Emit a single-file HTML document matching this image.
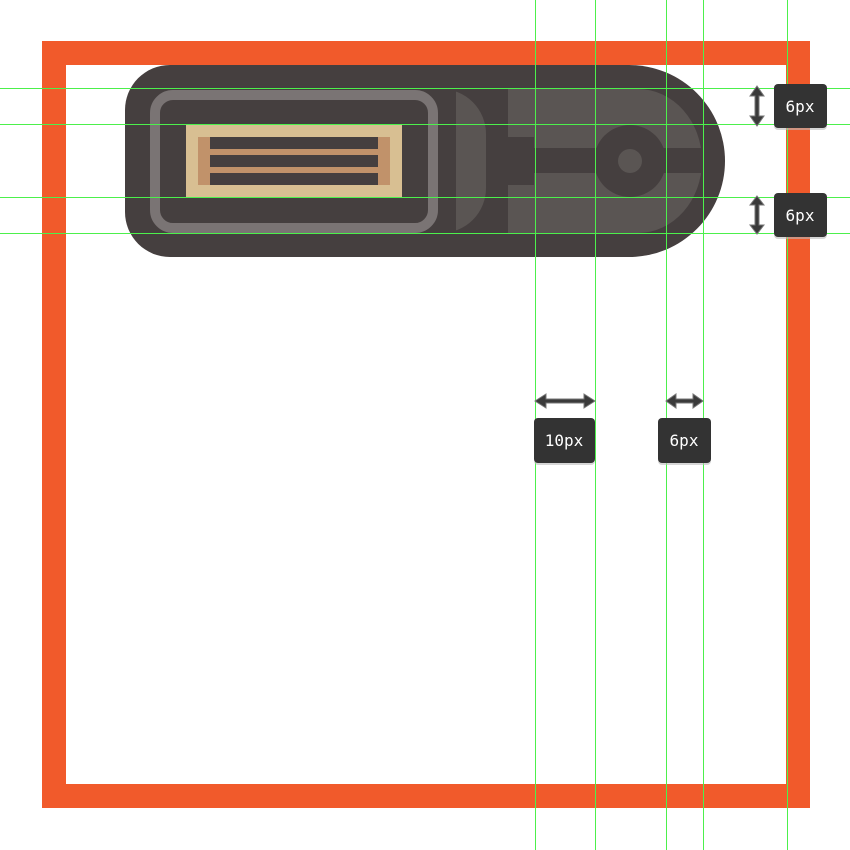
<!DOCTYPE html>
<html><head><style>body{margin:0;background:#fff}svg{display:block}</style></head>
<body>
<svg width="850" height="850" viewBox="0 0 850 850" xmlns="http://www.w3.org/2000/svg">
<defs><clipPath id="band"><rect x="456" y="80" width="40" height="160"/></clipPath></defs>
<rect x="0" y="0" width="850" height="850" fill="#fff"/>
<rect x="54" y="53" width="744" height="743" fill="none" stroke="#f15a2b" stroke-width="24"/>
<!-- body -->
<path d="M170 65 H629 A96 96 0 0 1 629 257 H170 A45 45 0 0 1 125 212 V110 A45 45 0 0 1 170 65 Z" fill="#453f3f"/>
<rect x="300" y="104" width="171" height="114" rx="30" ry="30" fill="none" stroke="#5a5553" stroke-width="30" clip-path="url(#band)"/>
<path d="M508 89 H638 A64 72 0 0 1 638 233 H508 Z" fill="#5a5553"/>
<rect x="508" y="137" width="26" height="48" fill="#453f3f"/>
<rect x="534" y="148" width="170" height="25" fill="#453f3f"/>
<circle cx="630" cy="161" r="36" fill="#453f3f"/>
<circle cx="630" cy="161" r="12" fill="#5a5553"/>
<!-- frame -->
<rect x="155" y="95" width="278" height="133" rx="18" ry="18" fill="#453f3f" stroke="#7a7474" stroke-width="10"/>
<rect x="186" y="125" width="216" height="72" fill="#d8bf92"/>
<rect x="198" y="137" width="192" height="48" fill="#c1926a"/>
<rect x="210" y="137" width="168" height="12" fill="#453f3f"/>
<rect x="210" y="155" width="168" height="12" fill="#453f3f"/>
<rect x="210" y="173" width="168" height="12" fill="#453f3f"/>
<!-- guides -->
<g fill="#4cf04c">
<rect x="535" y="0" width="1" height="850"/>
<rect x="595" y="0" width="1" height="850"/>
<rect x="666" y="0" width="1" height="850"/>
<rect x="703" y="0" width="1" height="850"/>
<rect x="787" y="0" width="1" height="850"/>
<rect x="0" y="88" width="850" height="1"/>
<rect x="0" y="124" width="850" height="1"/>
<rect x="0" y="197" width="850" height="1"/>
<rect x="0" y="233" width="850" height="1"/>
</g>
<!-- arrows -->
<g fill="#3a3a3a" stroke="#777" stroke-width="1">
<path d="M757 86 L764 96 L759 96 L759 116 L764 116 L757 126 L750 116 L755 116 L755 96 L750 96 Z"/>
<path d="M757 196 L764 205 L759 205 L759 225 L764 225 L757 234 L750 225 L755 225 L755 205 L750 205 Z"/>
<path d="M535 401 L546 394 L546 399 L584 399 L584 394 L595 401 L584 408 L584 403 L546 403 L546 408 Z"/>
<path d="M666 401 L676 394 L676 399 L693 399 L693 394 L703 401 L693 408 L693 403 L676 403 L676 408 Z"/>
</g>
<!-- labels -->
<g font-family="'DejaVu Sans Mono','Liberation Mono',monospace" font-size="16" fill="#fff" text-anchor="middle">
<rect x="774" y="85" width="53" height="45" rx="4" fill="#bbb" opacity=".6"/>
<rect x="774" y="84" width="53" height="44" rx="4" fill="#333"/>
<text x="800" y="112">6px</text>
<rect x="774" y="194" width="53" height="45" rx="4" fill="#bbb" opacity=".6"/>
<rect x="774" y="193" width="53" height="44" rx="4" fill="#333"/>
<text x="800" y="221">6px</text>
<rect x="534" y="419" width="61" height="46" rx="4" fill="#bbb" opacity=".6"/>
<rect x="534" y="418" width="61" height="45" rx="4" fill="#333"/>
<text x="564" y="446">10px</text>
<rect x="658" y="419" width="53" height="46" rx="4" fill="#bbb" opacity=".6"/>
<rect x="658" y="418" width="53" height="45" rx="4" fill="#333"/>
<text x="684" y="446">6px</text>
</g>
</svg>
</body></html>
